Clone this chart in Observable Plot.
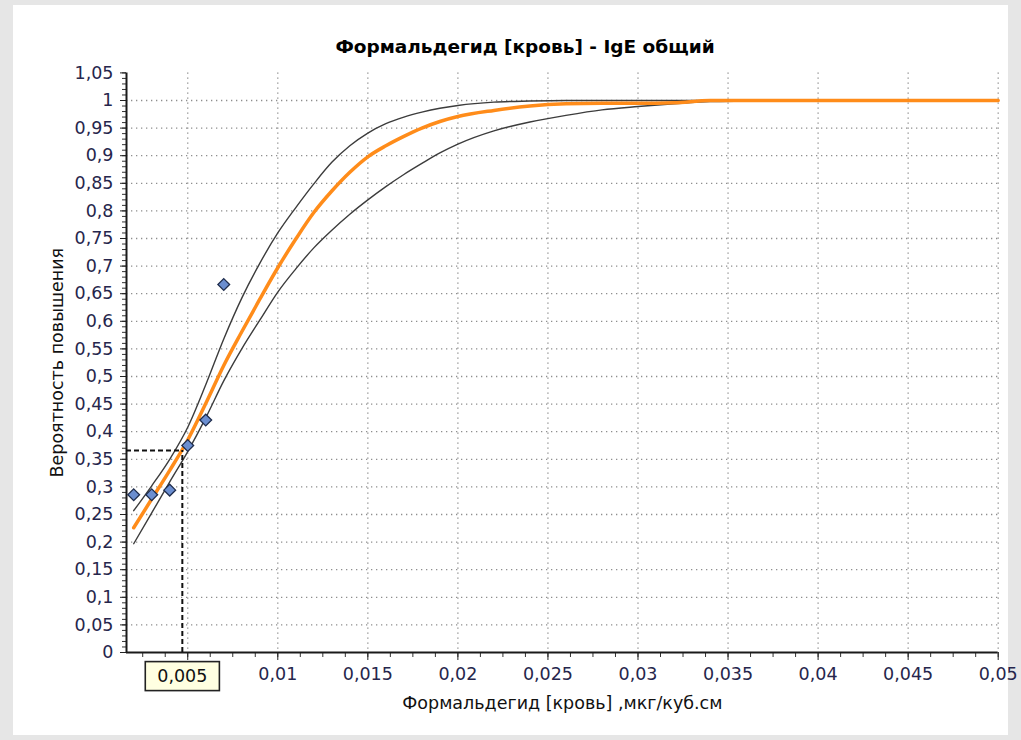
<!DOCTYPE html>
<html><head><meta charset="utf-8">
<script src="https://cdn.jsdelivr.net/npm/d3@7"></script>
<script src="https://cdn.jsdelivr.net/npm/@observablehq/plot@0.6"></script>
<style>
body{margin:0;background:#e6e6e6;font-family:"DejaVu Sans",sans-serif;}
#panel{position:absolute;left:13px;top:5px;width:995px;height:730px;background:#fff;}
#chart{position:absolute;left:0;top:0;width:1021px;}
#title{height:60px;box-sizing:border-box;padding-top:36px;padding-left:29px;line-height:22px;text-align:center;font-weight:bold;font-size:18.5px;color:#000;}
#chart svg{display:block;overflow:visible;}
</style></head><body>
<div id="panel"></div>
<div id="chart"><div id="title"></div></div>
<script>
// ---- texts ----
const titleText = "Формальдегид [кровь] - IgE общий";
const xLabel = "Формальдегид [кровь] ,мкг/куб.см";
const yLabel = "Вероятность повышения";

// ---- observed points ----
const pointX = [0.002, 0.003, 0.004, 0.005, 0.006, 0.007];
const pointY = [0.2857, 0.2857, 0.2941, 0.375, 0.4211, 0.6667];

// ---- curves ----
const curveX = [0.002,0.003,0.004,0.005,0.006,0.007,0.008,0.009,0.010,0.011,0.012,0.013,0.014,0.015,0.016,0.017,0.018,0.019,0.020,0.022,0.024,0.026,0.028,0.030,0.032,0.034,0.036,0.038];
const upperY = [0.257,0.302,0.350,0.408,0.485,0.568,0.642,0.705,0.760,0.806,0.849,0.888,0.918,0.941,0.958,0.970,0.979,0.986,0.991,0.997,0.999,1,1,1,1,1,1,1];
const lowerY = [0.197,0.253,0.309,0.364,0.425,0.492,0.550,0.602,0.653,0.695,0.733,0.765,0.794,0.820,0.844,0.866,0.886,0.905,0.921,0.945,0.961,0.973,0.983,0.989,0.994,0.998,0.999,1];
const fitX = [0.002,0.003,0.004,0.005,0.006,0.007,0.008,0.009,0.010,0.011,0.012,0.013,0.014,0.015,0.016,0.017,0.018,0.019,0.020,0.022,0.024,0.026,0.028,0.030,0.032,0.034,0.036,0.038,0.040,0.045,0.050];
const fitY = [0.226,0.278,0.330,0.385,0.451,0.520,0.581,0.640,0.697,0.749,0.797,0.836,0.870,0.898,0.918,0.935,0.950,0.962,0.971,0.982,0.990,0.994,0.995,0.995,0.996,1,1,1,1,1,1];

// ---- crosshair ----
const crossX = 0.0047;
const crossY = 0.366;
const crossLabel = "0,005";

// ---- axes ----
const xDomain = [0.0016, 0.05];
const yDomain = [0, 1.05];
const xTickValues = [0.005,0.01,0.015,0.02,0.025,0.03,0.035,0.04,0.045,0.05];
const xTickLabels = ["","0,01","0,015","0,02","0,025","0,03","0,035","0,04","0,045","0,05"];
const yTickValues = [0,0.05,0.1,0.15,0.2,0.25,0.3,0.35,0.4,0.45,0.5,0.55,0.6,0.65,0.7,0.75,0.8,0.85,0.9,0.95,1,1.05];
const yTickLabels = ["0","0,05","0,1","0,15","0,2","0,25","0,3","0,35","0,4","0,45","0,5","0,55","0,6","0,65","0,7","0,75","0,8","0,85","0,9","0,95","1","1,05"];
const yGridValues = yTickValues.filter(v => v > 0 && v <= 1);
const xMinor = d3.range(0.0025, 0.0501, 0.00125);
const yMinor = d3.range(0, 1.0501, 0.01);

document.getElementById("title").textContent = titleText;

const gridStyle = {stroke: "#8e8e8e", strokeOpacity: 1, strokeWidth: 1.3, strokeDasharray: "1.3,3.7"};
const labelFill = "#26264c";

const chart = Plot.plot({
  width: 1021, height: 680,
  marginLeft: 126, marginRight: 23.3, marginTop: 12.4, marginBottom: 88,
  style: {background: "transparent", fontFamily: "DejaVu Sans", fontSize: "17.5px", color: "#1a1a1a", overflow: "visible"},
  x: {type: "linear", domain: xDomain},
  y: {type: "linear", domain: yDomain},
  marks: [
    Plot.gridX({ticks: xTickValues, ...gridStyle}),
    Plot.gridY({ticks: yGridValues, ...gridStyle}),
    Plot.axisY({ticks: yMinor, tickSize: 4, tickFormat: () => "", label: null, stroke: "#333"}),
    Plot.axisY({ticks: yTickValues, tickSize: 6, tickPadding: 7, label: null, stroke: "#222", fill: labelFill,
      tickFormat: d => yTickLabels[yTickValues.indexOf(d)]}),
    Plot.axisX({ticks: xMinor, tickSize: 5, tickFormat: () => "", label: null, stroke: "#333"}),
    Plot.axisX({ticks: xTickValues, tickSize: 8, tickPadding: 7, label: null, stroke: "#222", fill: labelFill,
      tickFormat: d => xTickLabels[xTickValues.indexOf(d)]}),
    Plot.ruleX([xDomain[0]], {stroke: "#1a1a1a", strokeWidth: 2}),
    Plot.ruleY([yDomain[0]], {stroke: "#1a1a1a", strokeWidth: 2}),
    Plot.line(curveX, {x: curveX, y: upperY, stroke: "#3c3c3c", strokeWidth: 1.4, curve: "monotone-x"}),
    Plot.line(curveX, {x: curveX, y: lowerY, stroke: "#3c3c3c", strokeWidth: 1.4, curve: "monotone-x"}),
    Plot.line(fitX, {x: fitX, y: fitY, stroke: "#ff8c1a", strokeWidth: 3.5, curve: "monotone-x"}),
    Plot.ruleY([crossY], {x1: xDomain[0], x2: crossX, stroke: "#111", strokeWidth: 2, strokeDasharray: "5,3"}),
    Plot.ruleX([crossX], {y1: yDomain[0], y2: crossY, stroke: "#111", strokeWidth: 2, strokeDasharray: "5,3"}),
    Plot.dot(pointX, {x: pointX, y: pointY, symbol: "diamond2", r: 5.3, fill: "#6b8ed0", stroke: "#1f2d4d", strokeWidth: 1.3}),
    Plot.text([crossX], {x: d => d, text: () => crossLabel, frameAnchor: "bottom", lineAnchor: "middle", dy: 24, fill: "#111"}),
    Plot.text([xLabel], {text: d => d, frameAnchor: "bottom", lineAnchor: "middle", textAnchor: "middle", dy: 51, fill: "#111"}),
    Plot.text([yLabel], {text: d => d, frameAnchor: "left", lineAnchor: "middle", textAnchor: "middle", dx: -69, rotate: -90, fill: "#111"})
  ]
});
document.getElementById("chart").appendChild(chart);

// box behind the crosshair label
chart.querySelectorAll("text").forEach(t => {
  if (t.textContent !== crossLabel) return;
  const b = t.getBBox();
  const cy = b.y + b.height / 2;
  const r = document.createElementNS("http://www.w3.org/2000/svg", "rect");
  r.setAttribute("x", b.x - 12);
  r.setAttribute("width", b.width + 24);
  r.setAttribute("y", cy - 14.5);
  r.setAttribute("height", 29);
  r.setAttribute("fill", "#ffffe1");
  r.setAttribute("stroke", "#222");
  r.setAttribute("stroke-width", 1.6);
  const tr = t.getAttribute("transform");
  if (tr) r.setAttribute("transform", tr);
  t.parentNode.insertBefore(r, t);
});
</script>
</body></html>
